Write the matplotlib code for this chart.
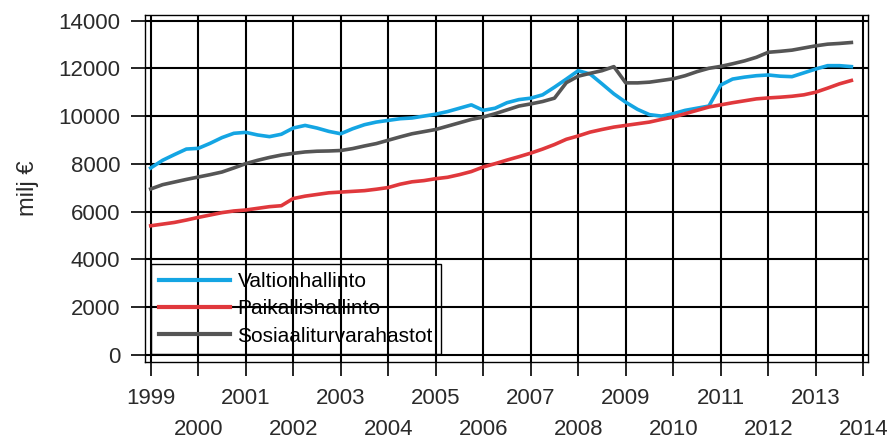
import matplotlib
matplotlib.use("Agg")
import matplotlib.pyplot as plt
import numpy as np

plt.rcParams['font.family'] = ['Liberation Sans', 'DejaVu Sans']

# quarterly values 1999Q1 .. 2013Q4, milj €
valtio = [7830, 8150, 8390, 8620, 8650, 8860, 9100, 9280,
          9320, 9210, 9140, 9240, 9500, 9610, 9500, 9360,
          9260, 9470, 9640, 9750, 9820, 9890, 9920, 10000,
          10080, 10190, 10330, 10470, 10240, 10330, 10560, 10690,
          10750, 10890, 11210, 11550, 11900, 11760, 11350, 10930,
          10580, 10280, 10060, 10000, 10100, 10240, 10330, 10420,
          11300, 11550, 11630, 11690, 11720, 11670, 11650, 11810,
          11970, 12110, 12110, 12070]
paikallis = [5410, 5480, 5550, 5650, 5760, 5860, 5960, 6030,
             6070, 6140, 6210, 6250, 6550, 6650, 6720, 6790,
             6820, 6850, 6880, 6940, 7010, 7150, 7250, 7300,
             7380, 7440, 7550, 7680, 7870, 8010, 8160, 8300,
             8450, 8620, 8810, 9030, 9170, 9330, 9440, 9540,
             9610, 9680, 9750, 9860, 9960, 10100, 10240, 10380,
             10470, 10560, 10640, 10720, 10760, 10790, 10830, 10890,
             11000, 11170, 11350, 11490]
sosiaali = [6950, 7130, 7240, 7350, 7450, 7550, 7660, 7830,
            8010, 8150, 8270, 8370, 8440, 8500, 8530, 8540,
            8560, 8640, 8750, 8850, 8990, 9130, 9260, 9350,
            9440, 9580, 9720, 9860, 9960, 10100, 10260, 10420,
            10510, 10610, 10750, 11400, 11670, 11790, 11900, 12070,
            11390, 11390, 11420, 11490, 11560, 11690, 11860, 12000,
            12080, 12190, 12310, 12460, 12670, 12710, 12760, 12850,
            12940, 13010, 13040, 13080]
series_names = ['Valtionhallinto', 'Paikallishallinto', 'Sosiaaliturvarahastot']
colors = ['#14a5e3', '#e0383c', '#555555']

first_year = 1999
years = np.arange(1999, 2015)
quarters = first_year + np.arange(len(valtio)) / 4.0

fig = plt.figure(figsize=(8.93, 4.44), dpi=100)
ax = fig.add_axes([0.1624, 0.1847, 0.8096, 0.7815])

for vals, name, c in zip([valtio, paikallis, sosiaali], series_names, colors):
    ax.plot(quarters, vals, color=c, lw=2.6, label=name, zorder=3)

ax.set_xlim(1998.88, 2014.1)
ax.set_ylim(-290, 14230)
ax.set_yticks(np.arange(0, 14001, 2000))

odd = years[years % 2 == 1]
even = years[years % 2 == 0]
ax.set_xticks(odd)
ax.set_xticklabels([str(y) for y in odd])
ax.set_xticks(even, minor=True)
ax.set_xticklabels([str(y) for y in even], minor=True)

ax.grid(True, which='both', color='black', lw=1.5, zorder=1)
ax.set_axisbelow(True)
for s in ax.spines.values():
    s.set_color('black')
    s.set_linewidth(1.0)

ax.tick_params(axis='both', which='both', direction='out', length=10, width=1.2,
               color='black', labelsize=16, labelcolor='#2a2a2a')
ax.tick_params(axis='x', which='major', pad=9)
ax.tick_params(axis='x', which='minor', pad=31)
ax.tick_params(axis='y', pad=8)

ax.set_ylabel('milj €', fontsize=17, color='#2a2a2a', labelpad=14)

leg = ax.legend(loc='lower left', bbox_to_anchor=(0.0083, 0.023), borderaxespad=0,
                fontsize=15, handlelength=3.4, handletextpad=0.35, labelspacing=0.4,
                fancybox=False, edgecolor='black', framealpha=1)
leg.get_frame().set_facecolor('none')
leg.get_frame().set_linewidth(1.0)
for line in leg.get_lines():
    line.set_linewidth(3.0)

fig.savefig('out.png', dpi=100)
